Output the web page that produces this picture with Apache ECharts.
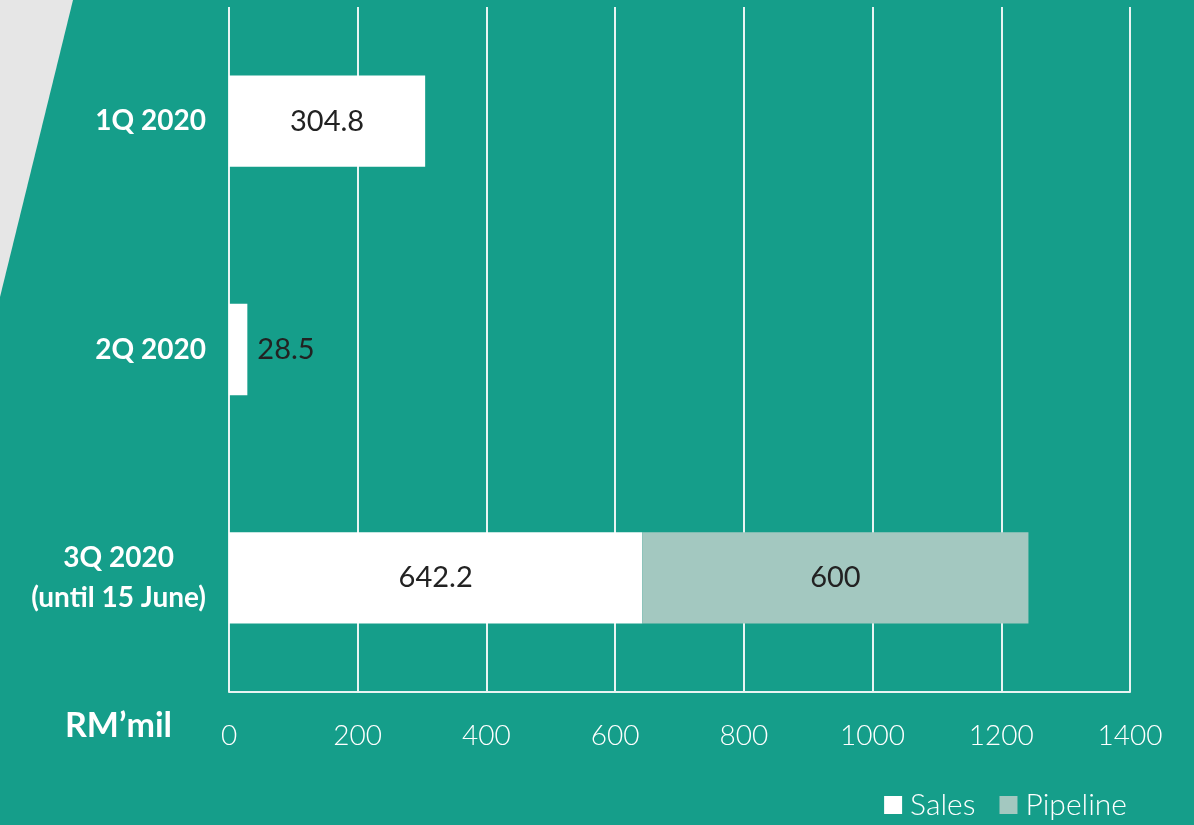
<!DOCTYPE html>
<html>
<head>
<meta charset="utf-8">
<script src="https://cdn.jsdelivr.net/npm/echarts@6/dist/echarts.min.js"></script>
<style>
html,body{margin:0;padding:0;background:#159E8A;}
#main{width:1194px;height:825px;}
</style>
</head>
<body>
<div id="main"></div>
<script>
const categories = ['1Q 2020', '2Q 2020', '3Q 2020\n(until 15 June)'];
const salesValues = [304.8, 28.5, 642.2];
const pipelineValues = [null, null, 600];
const xTicks = { min: 0, max: 1400, interval: 200 };

const chart = echarts.init(document.getElementById('main'));
const FONT = 'Lato, "Open Sans", sans-serif';

chart.setOption({
  backgroundColor: '#159E8A',
  animation: false,
  graphic: [
    { type: 'polygon', z: -10, shape: { points: [[0,0],[73,0],[0,297]] }, style: { fill: '#E6E6E6' } },
    { type: 'text', left: 65, top: 709, style: { text: 'RM\u2019mil', fill: '#ffffff', font: 'bold 34px ' + FONT } }
  ],
  grid: { left: 229, right: 64, top: 7, bottom: 133 },
  legend: {
    right: 62, bottom: 0,
    itemWidth: 18, itemHeight: 18, itemGap: 24,
    icon: 'rect',
    textStyle: { color: '#ffffff', fontSize: 30, fontFamily: FONT, fontWeight: 300, padding: [0, 0, 0, 3] },
    data: ['Sales', 'Pipeline']
  },
  xAxis: {
    type: 'value', min: xTicks.min, max: xTicks.max, interval: xTicks.interval,
    axisLine: { show: true, lineStyle: { color: '#E8F4F2', width: 2 } },
    axisTick: { show: false },
    splitLine: { show: true, lineStyle: { color: '#E8F4F2', width: 2 } },
    axisLabel: { color: '#ffffff', fontSize: 28, fontFamily: FONT, fontWeight: 300, margin: 30,
      formatter: function (v) { return String(v); } }
  },
  yAxis: {
    type: 'category', inverse: true, data: categories,
    axisLine: { show: false }, axisTick: { show: false },
    axisLabel: {
      margin: 23,
      formatter: function (v) { return v.split('\n').map(s => '{c|' + s + '}').join('\n'); },
      rich: { c: { align: 'center', color: '#ffffff', fontSize: 28, fontWeight: 'bold', fontFamily: FONT, lineHeight: 40 } }
    }
  },
  series: [
    {
      name: 'Sales', type: 'bar', stack: 'total', barWidth: '40%',
      itemStyle: { color: '#ffffff' },
      data: salesValues.map((v, i) => ({
        value: v,
        label: { position: v < 100 ? 'right' : 'inside', distance: 10 }
      })),
      label: { show: true, color: '#222222', fontSize: 29, fontFamily: FONT }
    },
    {
      name: 'Pipeline', type: 'bar', stack: 'total', barWidth: '40%',
      itemStyle: { color: '#A3C8C0' },
      data: pipelineValues,
      label: { show: true, position: 'inside', color: '#222222', fontSize: 29, fontFamily: FONT }
    }
  ]
});
</script>
</body>
</html>
